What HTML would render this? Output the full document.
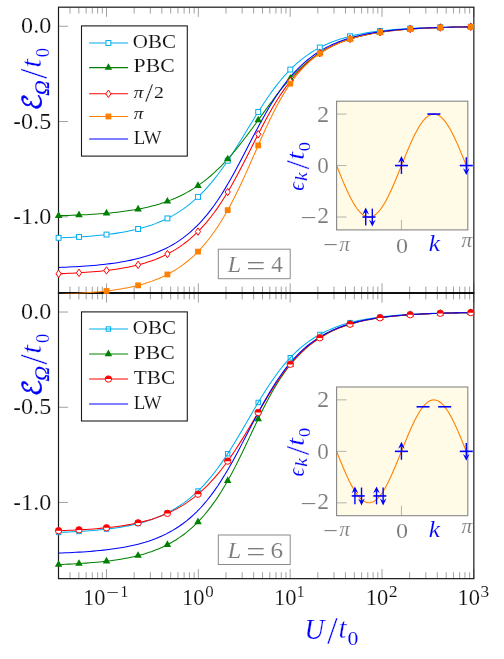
<!DOCTYPE html>
<html lang="en"><head><meta charset="utf-8"><title>Hubbard ring ground-state energy</title>
<style>html,body{margin:0;padding:0;background:#fff;}body{width:504px;height:659px;overflow:hidden;position:relative;}svg text{white-space:pre;}</style></head>
<body>
<svg width="504" height="659" viewBox="0 0 504 659" style="display:block;position:absolute;left:0;top:0">
<rect width="504" height="659" fill="#fff"/>
<defs>
<clipPath id="cp0"><rect x="58.5" y="7.2" width="415.34" height="286.40000000000003"/></clipPath>
<clipPath id="cp1"><rect x="58.5" y="293.0" width="415.34" height="286.25"/></clipPath>
</defs>
<path d="M58.50,7.2 v6.4 M69.97,7.2 v6.4 M78.87,7.2 v6.4 M86.14,7.2 v6.4 M92.29,7.2 v6.4 M97.62,7.2 v6.4 M102.31,7.2 v6.4 M106.52,7.2 v9.6 M134.16,7.2 v6.4 M150.33,7.2 v6.4 M161.80,7.2 v6.4 M170.70,7.2 v6.4 M177.97,7.2 v6.4 M184.12,7.2 v6.4 M189.45,7.2 v6.4 M194.15,7.2 v6.4 M198.35,7.2 v9.6 M225.99,7.2 v6.4 M242.16,7.2 v6.4 M253.64,7.2 v6.4 M262.53,7.2 v6.4 M269.81,7.2 v6.4 M275.95,7.2 v6.4 M281.28,7.2 v6.4 M285.98,7.2 v6.4 M290.18,7.2 v9.6 M317.82,7.2 v6.4 M333.99,7.2 v6.4 M345.47,7.2 v6.4 M354.37,7.2 v6.4 M361.64,7.2 v6.4 M367.78,7.2 v6.4 M373.11,7.2 v6.4 M377.81,7.2 v6.4 M382.01,7.2 v9.6 M409.65,7.2 v6.4 M425.82,7.2 v6.4 M437.30,7.2 v6.4 M446.20,7.2 v6.4 M453.47,7.2 v6.4 M459.62,7.2 v6.4 M464.94,7.2 v6.4 M469.64,7.2 v6.4 M473.84,7.2 v9.6 M58.50,293.0 v-6.4 M58.50,293.0 v6.4 M69.97,293.0 v-6.4 M69.97,293.0 v6.4 M78.87,293.0 v-6.4 M78.87,293.0 v6.4 M86.14,293.0 v-6.4 M86.14,293.0 v6.4 M92.29,293.0 v-6.4 M92.29,293.0 v6.4 M97.62,293.0 v-6.4 M97.62,293.0 v6.4 M102.31,293.0 v-6.4 M102.31,293.0 v6.4 M106.52,293.0 v-9.6 M106.52,293.0 v9.6 M134.16,293.0 v-6.4 M134.16,293.0 v6.4 M150.33,293.0 v-6.4 M150.33,293.0 v6.4 M161.80,293.0 v-6.4 M161.80,293.0 v6.4 M170.70,293.0 v-6.4 M170.70,293.0 v6.4 M177.97,293.0 v-6.4 M177.97,293.0 v6.4 M184.12,293.0 v-6.4 M184.12,293.0 v6.4 M189.45,293.0 v-6.4 M189.45,293.0 v6.4 M194.15,293.0 v-6.4 M194.15,293.0 v6.4 M198.35,293.0 v-9.6 M198.35,293.0 v9.6 M225.99,293.0 v-6.4 M225.99,293.0 v6.4 M242.16,293.0 v-6.4 M242.16,293.0 v6.4 M253.64,293.0 v-6.4 M253.64,293.0 v6.4 M262.53,293.0 v-6.4 M262.53,293.0 v6.4 M269.81,293.0 v-6.4 M269.81,293.0 v6.4 M275.95,293.0 v-6.4 M275.95,293.0 v6.4 M281.28,293.0 v-6.4 M281.28,293.0 v6.4 M285.98,293.0 v-6.4 M285.98,293.0 v6.4 M290.18,293.0 v-9.6 M290.18,293.0 v9.6 M317.82,293.0 v-6.4 M317.82,293.0 v6.4 M333.99,293.0 v-6.4 M333.99,293.0 v6.4 M345.47,293.0 v-6.4 M345.47,293.0 v6.4 M354.37,293.0 v-6.4 M354.37,293.0 v6.4 M361.64,293.0 v-6.4 M361.64,293.0 v6.4 M367.78,293.0 v-6.4 M367.78,293.0 v6.4 M373.11,293.0 v-6.4 M373.11,293.0 v6.4 M377.81,293.0 v-6.4 M377.81,293.0 v6.4 M382.01,293.0 v-9.6 M382.01,293.0 v9.6 M409.65,293.0 v-6.4 M409.65,293.0 v6.4 M425.82,293.0 v-6.4 M425.82,293.0 v6.4 M437.30,293.0 v-6.4 M437.30,293.0 v6.4 M446.20,293.0 v-6.4 M446.20,293.0 v6.4 M453.47,293.0 v-6.4 M453.47,293.0 v6.4 M459.62,293.0 v-6.4 M459.62,293.0 v6.4 M464.94,293.0 v-6.4 M464.94,293.0 v6.4 M469.64,293.0 v-6.4 M469.64,293.0 v6.4 M473.84,293.0 v-9.6 M473.84,293.0 v9.6 M58.50,578.65 v-6.4 M69.97,578.65 v-6.4 M78.87,578.65 v-6.4 M86.14,578.65 v-6.4 M92.29,578.65 v-6.4 M97.62,578.65 v-6.4 M102.31,578.65 v-6.4 M106.52,578.65 v-9.6 M134.16,578.65 v-6.4 M150.33,578.65 v-6.4 M161.80,578.65 v-6.4 M170.70,578.65 v-6.4 M177.97,578.65 v-6.4 M184.12,578.65 v-6.4 M189.45,578.65 v-6.4 M194.15,578.65 v-6.4 M198.35,578.65 v-9.6 M225.99,578.65 v-6.4 M242.16,578.65 v-6.4 M253.64,578.65 v-6.4 M262.53,578.65 v-6.4 M269.81,578.65 v-6.4 M275.95,578.65 v-6.4 M281.28,578.65 v-6.4 M285.98,578.65 v-6.4 M290.18,578.65 v-9.6 M317.82,578.65 v-6.4 M333.99,578.65 v-6.4 M345.47,578.65 v-6.4 M354.37,578.65 v-6.4 M361.64,578.65 v-6.4 M367.78,578.65 v-6.4 M373.11,578.65 v-6.4 M377.81,578.65 v-6.4 M382.01,578.65 v-9.6 M409.65,578.65 v-6.4 M425.82,578.65 v-6.4 M437.30,578.65 v-6.4 M446.20,578.65 v-6.4 M453.47,578.65 v-6.4 M459.62,578.65 v-6.4 M464.94,578.65 v-6.4 M469.64,578.65 v-6.4 M473.84,578.65 v-9.6 M58.5,26.25 h9.6 M58.5,121.52 h9.6 M58.5,216.79 h9.6 M58.5,312.04 h9.6 M58.5,407.26 h9.6 M58.5,502.48 h9.6" stroke="#7a7a7a" stroke-width="0.7" fill="none"/>
<g fill="none" stroke="#1a1a1a" stroke-width="1.2">
<rect x="58.5" y="7.2" width="415.34" height="285.8"/>
<rect x="58.5" y="293.0" width="415.34" height="285.65"/>
<path d="M58.5,293.0 H473.84" stroke="#000" stroke-width="1.45"/>
</g>
<g clip-path="url(#cp0)" fill="none" stroke-width="1.05">
<path d="M58.50,237.85 L61.96,237.72 L65.42,237.58 L68.88,237.43 L72.34,237.26 L75.81,237.08 L79.27,236.88 L82.73,236.67 L86.19,236.43 L89.65,236.18 L93.11,235.90 L96.57,235.59 L100.03,235.26 L103.50,234.90 L106.96,234.51 L110.42,234.08 L113.88,233.62 L117.34,233.11 L120.80,232.56 L124.26,231.96 L127.72,231.31 L131.18,230.60 L134.65,229.84 L138.11,229.00 L141.57,228.09 L145.03,227.11 L148.49,226.04 L151.95,224.88 L155.41,223.62 L158.87,222.26 L162.33,220.78 L165.80,219.18 L169.26,217.46 L172.72,215.59 L176.18,213.58 L179.64,211.41 L183.10,209.07 L186.56,206.56 L190.02,203.86 L193.49,200.97 L196.95,197.87 L200.41,194.57 L203.87,191.04 L207.33,187.29 L210.79,183.32 L214.25,179.12 L217.71,174.70 L221.17,170.05 L224.64,165.20 L228.10,160.15 L231.56,154.92 L235.02,149.54 L238.48,144.03 L241.94,138.43 L245.40,132.76 L248.86,127.08 L252.33,121.42 L255.79,115.81 L259.25,110.31 L262.71,104.93 L266.17,99.73 L269.63,94.71 L273.09,89.90 L276.55,85.33 L280.01,80.99 L283.48,76.90 L286.94,73.05 L290.40,69.45 L293.86,66.08 L297.32,62.95 L300.78,60.04 L304.24,57.34 L307.70,54.84 L311.17,52.53 L314.63,50.40 L318.09,48.43 L321.55,46.62 L325.01,44.95 L328.47,43.41 L331.93,42.00 L335.39,40.70 L338.85,39.51 L342.32,38.41 L345.78,37.41 L349.24,36.49 L352.70,35.64 L356.16,34.86 L359.62,34.15 L363.08,33.49 L366.54,32.89 L370.00,32.34 L373.47,31.83 L376.93,31.37 L380.39,30.95 L383.85,30.56 L387.31,30.20 L390.77,29.87 L394.23,29.57 L397.69,29.29 L401.16,29.04 L404.62,28.81 L408.08,28.60 L411.54,28.40 L415.00,28.22 L418.46,28.06 L421.92,27.91 L425.38,27.77 L428.84,27.65 L432.31,27.53 L435.77,27.42 L439.23,27.33 L442.69,27.24 L446.15,27.16 L449.61,27.08 L453.07,27.01 L456.53,26.95 L460.00,26.89 L463.46,26.84 L466.92,26.79 L470.38,26.75 L473.84,26.70" stroke="#00aeef"/>
<path d="M58.50,215.72 L61.96,215.62 L65.42,215.52 L68.88,215.40 L72.34,215.28 L75.81,215.14 L79.27,214.99 L82.73,214.83 L86.19,214.66 L89.65,214.47 L93.11,214.26 L96.57,214.03 L100.03,213.78 L103.50,213.52 L106.96,213.22 L110.42,212.91 L113.88,212.56 L117.34,212.18 L120.80,211.77 L124.26,211.33 L127.72,210.84 L131.18,210.32 L134.65,209.75 L138.11,209.13 L141.57,208.46 L145.03,207.73 L148.49,206.94 L151.95,206.08 L155.41,205.15 L158.87,204.15 L162.33,203.06 L165.80,201.89 L169.26,200.63 L172.72,199.26 L176.18,197.79 L179.64,196.20 L183.10,194.50 L186.56,192.66 L190.02,190.70 L193.49,188.59 L196.95,186.34 L200.41,183.94 L203.87,181.38 L207.33,178.65 L210.79,175.75 L214.25,172.69 L217.71,169.44 L221.17,166.03 L224.64,162.43 L228.10,158.67 L231.56,154.74 L235.02,150.65 L238.48,146.40 L241.94,142.02 L245.40,137.51 L248.86,132.90 L252.33,128.21 L255.79,123.45 L259.25,118.66 L262.71,113.86 L266.17,109.08 L269.63,104.35 L273.09,99.70 L276.55,95.15 L280.01,90.72 L283.48,86.44 L286.94,82.33 L290.40,78.40 L293.86,74.66 L297.32,71.11 L300.78,67.77 L304.24,64.62 L307.70,61.68 L311.17,58.92 L314.63,56.36 L318.09,53.98 L321.55,51.77 L325.01,49.72 L328.47,47.82 L331.93,46.08 L335.39,44.46 L338.85,42.98 L342.32,41.61 L345.78,40.35 L349.24,39.19 L352.70,38.12 L356.16,37.14 L359.62,36.24 L363.08,35.42 L366.54,34.66 L370.00,33.96 L373.47,33.32 L376.93,32.74 L380.39,32.20 L383.85,31.71 L387.31,31.25 L390.77,30.84 L394.23,30.46 L397.69,30.11 L401.16,29.79 L404.62,29.49 L408.08,29.23 L411.54,28.98 L415.00,28.75 L418.46,28.54 L421.92,28.35 L425.38,28.18 L428.84,28.02 L432.31,27.87 L435.77,27.74 L439.23,27.61 L442.69,27.50 L446.15,27.40 L449.61,27.30 L453.07,27.22 L456.53,27.14 L460.00,27.06 L463.46,26.99 L466.92,26.93 L470.38,26.88 L473.84,26.82" stroke="#008000"/>
<path d="M58.50,273.77 L61.96,273.64 L65.42,273.50 L68.88,273.35 L72.34,273.18 L75.81,273.00 L79.27,272.80 L82.73,272.58 L86.19,272.35 L89.65,272.09 L93.11,271.81 L96.57,271.51 L100.03,271.17 L103.50,270.81 L106.96,270.42 L110.42,269.99 L113.88,269.52 L117.34,269.01 L120.80,268.46 L124.26,267.85 L127.72,267.20 L131.18,266.48 L134.65,265.70 L138.11,264.86 L141.57,263.94 L145.03,262.94 L148.49,261.85 L151.95,260.67 L155.41,259.39 L158.87,258.00 L162.33,256.49 L165.80,254.86 L169.26,253.08 L172.72,251.16 L176.18,249.09 L179.64,246.84 L183.10,244.41 L186.56,241.79 L190.02,238.97 L193.49,235.93 L196.95,232.65 L200.41,229.14 L203.87,225.38 L207.33,221.35 L210.79,217.05 L214.25,212.48 L217.71,207.62 L221.17,202.47 L224.64,197.05 L228.10,191.35 L231.56,185.40 L235.02,179.20 L238.48,172.79 L241.94,166.21 L245.40,159.48 L248.86,152.67 L252.33,145.82 L255.79,138.98 L259.25,132.21 L262.71,125.56 L266.17,119.08 L269.63,112.81 L273.09,106.79 L276.55,101.03 L280.01,95.57 L283.48,90.40 L286.94,85.54 L290.40,80.99 L293.86,76.73 L297.32,72.76 L300.78,69.08 L304.24,65.66 L307.70,62.49 L311.17,59.56 L314.63,56.86 L318.09,54.37 L321.55,52.07 L325.01,49.96 L328.47,48.01 L331.93,46.22 L335.39,44.57 L338.85,43.06 L342.32,41.67 L345.78,40.40 L349.24,39.23 L352.70,38.15 L356.16,37.17 L359.62,36.26 L363.08,35.43 L366.54,34.67 L370.00,33.97 L373.47,33.33 L376.93,32.74 L380.39,32.20 L383.85,31.71 L387.31,31.26 L390.77,30.84 L394.23,30.46 L397.69,30.11 L401.16,29.79 L404.62,29.50 L408.08,29.23 L411.54,28.98 L415.00,28.75 L418.46,28.54 L421.92,28.35 L425.38,28.18 L428.84,28.02 L432.31,27.87 L435.77,27.74 L439.23,27.61 L442.69,27.50 L446.15,27.40 L449.61,27.30 L453.07,27.22 L456.53,27.14 L460.00,27.06 L463.46,26.99 L466.92,26.93 L470.38,26.88 L473.84,26.82" stroke="#ff0000"/>
<path d="M58.50,294.28 L61.96,294.15 L65.42,294.01 L68.88,293.86 L72.34,293.69 L75.81,293.51 L79.27,293.31 L82.73,293.09 L86.19,292.86 L89.65,292.60 L93.11,292.32 L96.57,292.02 L100.03,291.68 L103.50,291.32 L106.96,290.92 L110.42,290.49 L113.88,290.02 L117.34,289.51 L120.80,288.96 L124.26,288.35 L127.72,287.69 L131.18,286.98 L134.65,286.19 L138.11,285.34 L141.57,284.42 L145.03,283.41 L148.49,282.32 L151.95,281.13 L155.41,279.84 L158.87,278.44 L162.33,276.92 L165.80,275.27 L169.26,273.47 L172.72,271.53 L176.18,269.43 L179.64,267.15 L183.10,264.68 L186.56,262.01 L190.02,259.13 L193.49,256.02 L196.95,252.67 L200.41,249.06 L203.87,245.18 L207.33,241.01 L210.79,236.54 L214.25,231.77 L217.71,226.67 L221.17,221.25 L224.64,215.49 L228.10,209.40 L231.56,202.98 L235.02,196.24 L238.48,189.21 L241.94,181.91 L245.40,174.38 L248.86,166.67 L252.33,158.83 L255.79,150.93 L259.25,143.05 L262.71,135.27 L266.17,127.65 L269.63,120.28 L273.09,113.20 L276.55,106.47 L280.01,100.13 L283.48,94.18 L286.94,88.64 L290.40,83.51 L293.86,78.76 L297.32,74.39 L300.78,70.37 L304.24,66.69 L307.70,63.30 L311.17,60.20 L314.63,57.36 L318.09,54.76 L321.55,52.38 L325.01,50.19 L328.47,48.19 L331.93,46.36 L335.39,44.68 L338.85,43.15 L342.32,41.74 L345.78,40.45 L349.24,39.27 L352.70,38.18 L356.16,37.19 L359.62,36.28 L363.08,35.45 L366.54,34.68 L370.00,33.98 L373.47,33.34 L376.93,32.75 L380.39,32.21 L383.85,31.71 L387.31,31.26 L390.77,30.84 L394.23,30.46 L397.69,30.11 L401.16,29.79 L404.62,29.50 L408.08,29.23 L411.54,28.98 L415.00,28.75 L418.46,28.55 L421.92,28.35 L425.38,28.18 L428.84,28.02 L432.31,27.87 L435.77,27.74 L439.23,27.61 L442.69,27.50 L446.15,27.40 L449.61,27.30 L453.07,27.22 L456.53,27.14 L460.00,27.06 L463.46,26.99 L466.92,26.93 L470.38,26.88 L473.84,26.82" stroke="#ff8000"/>
<path d="M58.50,267.42 L61.96,267.29 L65.42,267.15 L68.88,267.00 L72.34,266.83 L75.81,266.65 L79.27,266.45 L82.73,266.23 L86.19,266.00 L89.65,265.74 L93.11,265.46 L96.57,265.16 L100.03,264.82 L103.50,264.46 L106.96,264.07 L110.42,263.63 L113.88,263.17 L117.34,262.66 L120.80,262.10 L124.26,261.49 L127.72,260.84 L131.18,260.12 L134.65,259.34 L138.11,258.49 L141.57,257.56 L145.03,256.56 L148.49,255.47 L151.95,254.28 L155.41,252.99 L158.87,251.59 L162.33,250.07 L165.80,248.42 L169.26,246.63 L172.72,244.69 L176.18,242.59 L179.64,240.32 L183.10,237.86 L186.56,235.20 L190.02,232.33 L193.49,229.23 L196.95,225.90 L200.41,222.31 L203.87,218.46 L207.33,214.34 L210.79,209.93 L214.25,205.23 L217.71,200.23 L221.17,194.95 L224.64,189.39 L228.10,183.56 L231.56,177.49 L235.02,171.20 L238.48,164.74 L241.94,158.15 L245.40,151.48 L248.86,144.77 L252.33,138.08 L255.79,131.47 L259.25,124.97 L262.71,118.63 L266.17,112.49 L269.63,106.58 L273.09,100.93 L276.55,95.55 L280.01,90.45 L283.48,85.64 L286.94,81.12 L290.40,76.89 L293.86,72.95 L297.32,69.27 L300.78,65.86 L304.24,62.69 L307.70,59.76 L311.17,57.05 L314.63,54.55 L318.09,52.24 L321.55,50.12 L325.01,48.16 L328.47,46.36 L331.93,44.71 L335.39,43.19 L338.85,41.79 L342.32,40.51 L345.78,39.33 L349.24,38.24 L352.70,37.25 L356.16,36.34 L359.62,35.50 L363.08,34.74 L366.54,34.03 L370.00,33.39 L373.47,32.79 L376.93,32.25 L380.39,31.75 L383.85,31.30 L387.31,30.88 L390.77,30.49 L394.23,30.14 L397.69,29.82 L401.16,29.52 L404.62,29.25 L408.08,29.00 L411.54,28.77 L415.00,28.56 L418.46,28.37 L421.92,28.20 L425.38,28.03 L428.84,27.89 L432.31,27.75 L435.77,27.63 L439.23,27.51 L442.69,27.41 L446.15,27.31 L449.61,27.22 L453.07,27.14 L456.53,27.07 L460.00,27.00 L463.46,26.94 L466.92,26.88 L470.38,26.83 L473.84,26.78" stroke="#0000ff"/>
</g>
<g clip-path="url(#cp1)" fill="none" stroke-width="1.05">
<path d="M58.50,532.41 L61.96,532.28 L65.42,532.14 L68.88,531.99 L72.34,531.82 L75.81,531.64 L79.27,531.44 L82.73,531.22 L86.19,530.99 L89.65,530.73 L93.11,530.45 L96.57,530.15 L100.03,529.82 L103.50,529.46 L106.96,529.06 L110.42,528.64 L113.88,528.17 L117.34,527.66 L120.80,527.11 L124.26,526.51 L127.72,525.86 L131.18,525.15 L134.65,524.38 L138.11,523.54 L141.57,522.63 L145.03,521.64 L148.49,520.56 L151.95,519.39 L155.41,518.13 L158.87,516.76 L162.33,515.27 L165.80,513.66 L169.26,511.92 L172.72,510.03 L176.18,508.00 L179.64,505.80 L183.10,503.43 L186.56,500.88 L190.02,498.14 L193.49,495.20 L196.95,492.04 L200.41,488.66 L203.87,485.05 L207.33,481.21 L210.79,477.12 L214.25,472.79 L217.71,468.22 L221.17,463.41 L224.64,458.37 L228.10,453.11 L231.56,447.66 L235.02,442.03 L238.48,436.25 L241.94,430.36 L245.40,424.41 L248.86,418.42 L252.33,412.45 L255.79,406.53 L259.25,400.72 L262.71,395.04 L266.17,389.54 L269.63,384.25 L273.09,379.18 L276.55,374.35 L280.01,369.77 L283.48,365.45 L286.94,361.39 L290.40,357.59 L293.86,354.04 L297.32,350.74 L300.78,347.67 L304.24,344.82 L307.70,342.18 L311.17,339.75 L314.63,337.50 L318.09,335.42 L321.55,333.51 L325.01,331.75 L328.47,330.13 L331.93,328.65 L335.39,327.28 L338.85,326.02 L342.32,324.86 L345.78,323.80 L349.24,322.83 L352.70,321.94 L356.16,321.12 L359.62,320.36 L363.08,319.67 L366.54,319.04 L370.00,318.46 L373.47,317.93 L376.93,317.44 L380.39,316.99 L383.85,316.58 L387.31,316.20 L390.77,315.86 L394.23,315.54 L397.69,315.25 L401.16,314.98 L404.62,314.74 L408.08,314.52 L411.54,314.31 L415.00,314.12 L418.46,313.95 L421.92,313.79 L425.38,313.65 L428.84,313.51 L432.31,313.39 L435.77,313.28 L439.23,313.18 L442.69,313.08 L446.15,312.99 L449.61,312.92 L453.07,312.84 L456.53,312.78 L460.00,312.72 L463.46,312.66 L466.92,312.61 L470.38,312.56 L473.84,312.52" stroke="#00aeef"/>
<path d="M58.50,564.53 L61.96,564.40 L65.42,564.26 L68.88,564.11 L72.34,563.94 L75.81,563.76 L79.27,563.56 L82.73,563.34 L86.19,563.11 L89.65,562.85 L93.11,562.57 L96.57,562.26 L100.03,561.93 L103.50,561.57 L106.96,561.17 L110.42,560.74 L113.88,560.27 L117.34,559.76 L120.80,559.21 L124.26,558.60 L127.72,557.94 L131.18,557.23 L134.65,556.45 L138.11,555.60 L141.57,554.67 L145.03,553.67 L148.49,552.58 L151.95,551.39 L155.41,550.10 L158.87,548.70 L162.33,547.18 L165.80,545.53 L169.26,543.74 L172.72,541.80 L176.18,539.70 L179.64,537.42 L183.10,534.96 L186.56,532.30 L190.02,529.43 L193.49,526.32 L196.95,522.98 L200.41,519.38 L203.87,515.52 L207.33,511.37 L210.79,506.93 L214.25,502.18 L217.71,497.12 L221.17,491.75 L224.64,486.05 L228.10,480.04 L231.56,473.73 L235.02,467.13 L238.48,460.28 L241.94,453.21 L245.40,445.98 L248.86,438.64 L252.33,431.27 L255.79,423.94 L259.25,416.72 L262.71,409.69 L266.17,402.91 L269.63,396.42 L273.09,390.26 L276.55,384.43 L280.01,378.96 L283.48,373.84 L286.94,369.05 L290.40,364.59 L293.86,360.45 L297.32,356.61 L300.78,353.05 L304.24,349.76 L307.70,346.71 L311.17,343.90 L314.63,341.31 L318.09,338.92 L321.55,336.73 L325.01,334.70 L328.47,332.84 L331.93,331.13 L335.39,329.55 L338.85,328.11 L342.32,326.78 L345.78,325.56 L349.24,324.44 L352.70,323.42 L356.16,322.47 L359.62,321.61 L363.08,320.81 L366.54,320.09 L370.00,319.42 L373.47,318.81 L376.93,318.25 L380.39,317.73 L383.85,317.26 L387.31,316.82 L390.77,316.43 L394.23,316.06 L397.69,315.73 L401.16,315.42 L404.62,315.14 L408.08,314.88 L411.54,314.65 L415.00,314.43 L418.46,314.23 L421.92,314.05 L425.38,313.88 L428.84,313.73 L432.31,313.59 L435.77,313.46 L439.23,313.34 L442.69,313.24 L446.15,313.14 L449.61,313.05 L453.07,312.96 L456.53,312.89 L460.00,312.82 L463.46,312.75 L466.92,312.69 L470.38,312.64 L473.84,312.59" stroke="#008000"/>
<path d="M58.50,530.67 L61.96,530.56 L65.42,530.43 L68.88,530.30 L72.34,530.15 L75.81,529.99 L79.27,529.81 L82.73,529.62 L86.19,529.41 L89.65,529.18 L93.11,528.94 L96.57,528.67 L100.03,528.37 L103.50,528.05 L106.96,527.70 L110.42,527.32 L113.88,526.91 L117.34,526.46 L120.80,525.97 L124.26,525.44 L127.72,524.86 L131.18,524.24 L134.65,523.55 L138.11,522.81 L141.57,522.00 L145.03,521.13 L148.49,520.18 L151.95,519.15 L155.41,518.03 L158.87,516.82 L162.33,515.51 L165.80,514.09 L169.26,512.55 L172.72,510.89 L176.18,509.10 L179.64,507.17 L183.10,505.08 L186.56,502.84 L190.02,500.43 L193.49,497.84 L196.95,495.07 L200.41,492.09 L203.87,488.92 L207.33,485.53 L210.79,481.93 L214.25,478.10 L217.71,474.05 L221.17,469.77 L224.64,465.27 L228.10,460.54 L231.56,455.60 L235.02,450.46 L238.48,445.13 L241.94,439.63 L245.40,434.00 L248.86,428.25 L252.33,422.42 L255.79,416.56 L259.25,410.69 L262.71,404.87 L266.17,399.13 L269.63,393.52 L273.09,388.08 L276.55,382.82 L280.01,377.79 L283.48,373.00 L286.94,368.46 L290.40,364.18 L293.86,360.17 L297.32,356.42 L300.78,352.92 L304.24,349.67 L307.70,346.65 L311.17,343.86 L314.63,341.29 L318.09,338.91 L321.55,336.71 L325.01,334.69 L328.47,332.83 L331.93,331.12 L335.39,329.55 L338.85,328.11 L342.32,326.78 L345.78,325.56 L349.24,324.44 L352.70,323.42 L356.16,322.47 L359.62,321.61 L363.08,320.81 L366.54,320.09 L370.00,319.42 L373.47,318.81 L376.93,318.25 L380.39,317.73 L383.85,317.26 L387.31,316.82 L390.77,316.43 L394.23,316.06 L397.69,315.73 L401.16,315.42 L404.62,315.14 L408.08,314.88 L411.54,314.65 L415.00,314.43 L418.46,314.23 L421.92,314.05 L425.38,313.88 L428.84,313.73 L432.31,313.59 L435.77,313.46 L439.23,313.34 L442.69,313.24 L446.15,313.14 L449.61,313.05 L453.07,312.96 L456.53,312.89 L460.00,312.82 L463.46,312.75 L466.92,312.69 L470.38,312.64 L473.84,312.59" stroke="#ff0000"/>
<path d="M58.50,553.09 L61.96,552.96 L65.42,552.82 L68.88,552.66 L72.34,552.50 L75.81,552.31 L79.27,552.11 L82.73,551.90 L86.19,551.66 L89.65,551.41 L93.11,551.13 L96.57,550.82 L100.03,550.49 L103.50,550.13 L106.96,549.73 L110.42,549.30 L113.88,548.83 L117.34,548.32 L120.80,547.77 L124.26,547.16 L127.72,546.50 L131.18,545.79 L134.65,545.01 L138.11,544.16 L141.57,543.23 L145.03,542.23 L148.49,541.14 L151.95,539.95 L155.41,538.66 L158.87,537.26 L162.33,535.74 L165.80,534.10 L169.26,532.31 L172.72,530.37 L176.18,528.27 L179.64,526.00 L183.10,523.54 L186.56,520.88 L190.02,518.01 L193.49,514.92 L196.95,511.58 L200.41,508.00 L203.87,504.15 L207.33,500.03 L210.79,495.62 L214.25,490.92 L217.71,485.93 L221.17,480.65 L224.64,475.09 L228.10,469.26 L231.56,463.20 L235.02,456.91 L238.48,450.46 L241.94,443.87 L245.40,437.20 L248.86,430.50 L252.33,423.81 L255.79,417.20 L259.25,410.70 L262.71,404.37 L266.17,398.24 L269.63,392.33 L273.09,386.68 L276.55,381.30 L280.01,376.20 L283.48,371.40 L286.94,366.89 L290.40,362.66 L293.86,358.71 L297.32,355.04 L300.78,351.63 L304.24,348.46 L307.70,345.53 L311.17,342.82 L314.63,340.32 L318.09,338.02 L321.55,335.90 L325.01,333.94 L328.47,332.14 L331.93,330.49 L335.39,328.97 L338.85,327.57 L342.32,326.29 L345.78,325.11 L349.24,324.03 L352.70,323.04 L356.16,322.12 L359.62,321.29 L363.08,320.52 L366.54,319.82 L370.00,319.17 L373.47,318.58 L376.93,318.04 L380.39,317.54 L383.85,317.08 L387.31,316.66 L390.77,316.28 L394.23,315.93 L397.69,315.61 L401.16,315.31 L404.62,315.04 L408.08,314.79 L411.54,314.56 L415.00,314.35 L418.46,314.16 L421.92,313.98 L425.38,313.82 L428.84,313.67 L432.31,313.54 L435.77,313.41 L439.23,313.30 L442.69,313.20 L446.15,313.10 L449.61,313.01 L453.07,312.93 L456.53,312.86 L460.00,312.79 L463.46,312.73 L466.92,312.67 L470.38,312.62 L473.84,312.57" stroke="#0000ff"/>
</g>
<g>
<rect x="56.15" y="235.40" width="4.9" height="4.9" fill="#fff" stroke="#00aeef" stroke-width="1"/>
<rect x="76.55" y="234.45" width="4.9" height="4.9" fill="#fff" stroke="#00aeef" stroke-width="1"/>
<rect x="104.05" y="232.11" width="4.9" height="4.9" fill="#fff" stroke="#00aeef" stroke-width="1"/>
<rect x="135.65" y="226.55" width="4.9" height="4.9" fill="#fff" stroke="#00aeef" stroke-width="1"/>
<rect x="164.95" y="215.95" width="4.9" height="4.9" fill="#fff" stroke="#00aeef" stroke-width="1"/>
<rect x="195.55" y="194.44" width="4.9" height="4.9" fill="#fff" stroke="#00aeef" stroke-width="1"/>
<rect x="225.25" y="158.29" width="4.9" height="4.9" fill="#fff" stroke="#00aeef" stroke-width="1"/>
<rect x="255.75" y="109.51" width="4.9" height="4.9" fill="#fff" stroke="#00aeef" stroke-width="1"/>
<rect x="287.85" y="67.10" width="4.9" height="4.9" fill="#fff" stroke="#00aeef" stroke-width="1"/>
<rect x="317.35" y="45.06" width="4.9" height="4.9" fill="#fff" stroke="#00aeef" stroke-width="1"/>
<rect x="347.55" y="33.84" width="4.9" height="4.9" fill="#fff" stroke="#00aeef" stroke-width="1"/>
<rect x="377.55" y="28.54" width="4.9" height="4.9" fill="#fff" stroke="#00aeef" stroke-width="1"/>
<rect x="407.75" y="26.03" width="4.9" height="4.9" fill="#fff" stroke="#00aeef" stroke-width="1"/>
<rect x="437.85" y="24.85" width="4.9" height="4.9" fill="#fff" stroke="#00aeef" stroke-width="1"/>
<rect x="468.35" y="24.29" width="4.9" height="4.9" fill="#fff" stroke="#00aeef" stroke-width="1"/>
<path d="M54.85,217.97 L62.35,217.97 L58.60,211.32 Z" fill="#008000"/>
<path d="M75.25,217.26 L82.75,217.26 L79.00,210.61 Z" fill="#008000"/>
<path d="M102.75,215.51 L110.25,215.51 L106.50,208.86 Z" fill="#008000"/>
<path d="M134.35,211.38 L141.85,211.38 L138.10,204.73 Z" fill="#008000"/>
<path d="M163.65,203.57 L171.15,203.57 L167.40,196.92 Z" fill="#008000"/>
<path d="M194.25,187.88 L201.75,187.88 L198.00,181.23 Z" fill="#008000"/>
<path d="M223.95,161.36 L231.45,161.36 L227.70,154.71 Z" fill="#008000"/>
<path d="M254.45,122.36 L261.95,122.36 L258.20,115.71 Z" fill="#008000"/>
<path d="M286.55,80.76 L294.05,80.76 L290.30,74.11 Z" fill="#008000"/>
<path d="M316.05,55.11 L323.55,55.11 L319.80,48.46 Z" fill="#008000"/>
<path d="M346.25,41.19 L353.75,41.19 L350.00,34.54 Z" fill="#008000"/>
<path d="M376.25,34.51 L383.75,34.51 L380.00,27.86 Z" fill="#008000"/>
<path d="M406.45,31.32 L413.95,31.32 L410.20,24.67 Z" fill="#008000"/>
<path d="M436.55,29.83 L444.05,29.83 L440.30,23.18 Z" fill="#008000"/>
<path d="M467.05,29.12 L474.55,29.12 L470.80,22.47 Z" fill="#008000"/>
<path d="M56.00,273.77 L58.60,270.07 L61.20,273.77 L58.60,277.47 Z" fill="#fff" stroke="#ff0000" stroke-width="1"/>
<path d="M76.40,272.82 L79.00,269.12 L81.60,272.82 L79.00,276.52 Z" fill="#fff" stroke="#ff0000" stroke-width="1"/>
<path d="M103.90,270.47 L106.50,266.77 L109.10,270.47 L106.50,274.17 Z" fill="#fff" stroke="#ff0000" stroke-width="1"/>
<path d="M135.50,264.86 L138.10,261.16 L140.70,264.86 L138.10,268.56 Z" fill="#fff" stroke="#ff0000" stroke-width="1"/>
<path d="M164.80,254.05 L167.40,250.35 L170.00,254.05 L167.40,257.75 Z" fill="#fff" stroke="#ff0000" stroke-width="1"/>
<path d="M195.40,231.61 L198.00,227.91 L200.60,231.61 L198.00,235.31 Z" fill="#fff" stroke="#ff0000" stroke-width="1"/>
<path d="M225.10,192.02 L227.70,188.32 L230.30,192.02 L227.70,195.72 Z" fill="#fff" stroke="#ff0000" stroke-width="1"/>
<path d="M255.60,134.25 L258.20,130.55 L260.80,134.25 L258.20,137.95 Z" fill="#fff" stroke="#ff0000" stroke-width="1"/>
<path d="M287.70,81.11 L290.30,77.41 L292.90,81.11 L290.30,84.81 Z" fill="#fff" stroke="#ff0000" stroke-width="1"/>
<path d="M317.20,53.21 L319.80,49.51 L322.40,53.21 L319.80,56.91 Z" fill="#fff" stroke="#ff0000" stroke-width="1"/>
<path d="M347.40,38.98 L350.00,35.28 L352.60,38.98 L350.00,42.68 Z" fill="#fff" stroke="#ff0000" stroke-width="1"/>
<path d="M377.40,32.26 L380.00,28.56 L382.60,32.26 L380.00,35.96 Z" fill="#fff" stroke="#ff0000" stroke-width="1"/>
<path d="M407.60,29.07 L410.20,25.37 L412.80,29.07 L410.20,32.77 Z" fill="#fff" stroke="#ff0000" stroke-width="1"/>
<path d="M437.70,27.58 L440.30,23.88 L442.90,27.58 L440.30,31.28 Z" fill="#fff" stroke="#ff0000" stroke-width="1"/>
<path d="M468.20,26.87 L470.80,23.17 L473.40,26.87 L470.80,30.57 Z" fill="#fff" stroke="#ff0000" stroke-width="1"/>
<rect x="103.60" y="288.08" width="5.8" height="5.8" fill="#ff8000"/>
<rect x="135.20" y="282.45" width="5.8" height="5.8" fill="#ff8000"/>
<rect x="164.50" y="271.55" width="5.8" height="5.8" fill="#ff8000"/>
<rect x="195.10" y="248.70" width="5.8" height="5.8" fill="#ff8000"/>
<rect x="224.80" y="207.21" width="5.8" height="5.8" fill="#ff8000"/>
<rect x="255.30" y="142.53" width="5.8" height="5.8" fill="#ff8000"/>
<rect x="287.40" y="80.75" width="5.8" height="5.8" fill="#ff8000"/>
<rect x="316.90" y="50.65" width="5.8" height="5.8" fill="#ff8000"/>
<rect x="347.10" y="36.12" width="5.8" height="5.8" fill="#ff8000"/>
<rect x="377.10" y="29.37" width="5.8" height="5.8" fill="#ff8000"/>
<rect x="407.30" y="26.17" width="5.8" height="5.8" fill="#ff8000"/>
<rect x="437.40" y="24.68" width="5.8" height="5.8" fill="#ff8000"/>
<rect x="467.90" y="23.97" width="5.8" height="5.8" fill="#ff8000"/>
</g>
<g>
<rect x="56.40" y="530.21" width="4.4" height="4.4" fill="none" stroke="#00aeef" stroke-width="1"/>
<rect x="76.80" y="529.26" width="4.4" height="4.4" fill="none" stroke="#00aeef" stroke-width="1"/>
<rect x="104.30" y="526.92" width="4.4" height="4.4" fill="none" stroke="#00aeef" stroke-width="1"/>
<rect x="135.90" y="521.34" width="4.4" height="4.4" fill="none" stroke="#00aeef" stroke-width="1"/>
<rect x="165.20" y="510.67" width="4.4" height="4.4" fill="none" stroke="#00aeef" stroke-width="1"/>
<rect x="195.80" y="488.83" width="4.4" height="4.4" fill="none" stroke="#00aeef" stroke-width="1"/>
<rect x="225.50" y="451.53" width="4.4" height="4.4" fill="none" stroke="#00aeef" stroke-width="1"/>
<rect x="256.00" y="400.26" width="4.4" height="4.4" fill="none" stroke="#00aeef" stroke-width="1"/>
<rect x="288.10" y="355.50" width="4.4" height="4.4" fill="none" stroke="#00aeef" stroke-width="1"/>
<rect x="317.60" y="332.26" width="4.4" height="4.4" fill="none" stroke="#00aeef" stroke-width="1"/>
<rect x="347.80" y="320.43" width="4.4" height="4.4" fill="none" stroke="#00aeef" stroke-width="1"/>
<rect x="377.80" y="314.84" width="4.4" height="4.4" fill="none" stroke="#00aeef" stroke-width="1"/>
<rect x="408.00" y="312.19" width="4.4" height="4.4" fill="none" stroke="#00aeef" stroke-width="1"/>
<rect x="438.10" y="310.95" width="4.4" height="4.4" fill="none" stroke="#00aeef" stroke-width="1"/>
<rect x="468.60" y="310.36" width="4.4" height="4.4" fill="none" stroke="#00aeef" stroke-width="1"/>
<path d="M54.85,566.78 L62.35,566.78 L58.60,560.13 Z" fill="#008000"/>
<path d="M75.25,565.82 L82.75,565.82 L79.00,559.17 Z" fill="#008000"/>
<path d="M102.75,563.48 L110.25,563.48 L106.50,556.83 Z" fill="#008000"/>
<path d="M134.35,557.85 L141.85,557.85 L138.10,551.20 Z" fill="#008000"/>
<path d="M163.65,546.97 L171.15,546.97 L167.40,540.32 Z" fill="#008000"/>
<path d="M194.25,524.16 L201.75,524.16 L198.00,517.51 Z" fill="#008000"/>
<path d="M223.95,482.99 L231.45,482.99 L227.70,476.34 Z" fill="#008000"/>
<path d="M254.45,421.14 L261.95,421.14 L258.20,414.49 Z" fill="#008000"/>
<path d="M286.55,366.97 L294.05,366.97 L290.30,360.32 Z" fill="#008000"/>
<path d="M316.05,340.06 L323.55,340.06 L319.80,333.41 Z" fill="#008000"/>
<path d="M346.25,326.46 L353.75,326.46 L350.00,319.81 Z" fill="#008000"/>
<path d="M376.25,320.04 L383.75,320.04 L380.00,313.39 Z" fill="#008000"/>
<path d="M406.45,316.99 L413.95,316.99 L410.20,310.34 Z" fill="#008000"/>
<path d="M436.55,315.56 L444.05,315.56 L440.30,308.91 Z" fill="#008000"/>
<path d="M467.05,314.88 L474.55,314.88 L470.80,308.23 Z" fill="#008000"/>
<circle cx="58.60" cy="530.67" r="3.2" fill="#fff" stroke="#ff0000" stroke-width="0.95"/><path d="M55.40,530.77 A3.2,3.2 0 0 1 61.80,530.77 Z" fill="#ff0000"/>
<circle cx="79.00" cy="529.83" r="3.2" fill="#fff" stroke="#ff0000" stroke-width="0.95"/><path d="M75.80,529.93 A3.2,3.2 0 0 1 82.20,529.93 Z" fill="#ff0000"/>
<circle cx="106.50" cy="527.75" r="3.2" fill="#fff" stroke="#ff0000" stroke-width="0.95"/><path d="M103.30,527.85 A3.2,3.2 0 0 1 109.70,527.85 Z" fill="#ff0000"/>
<circle cx="138.10" cy="522.81" r="3.2" fill="#fff" stroke="#ff0000" stroke-width="0.95"/><path d="M134.90,522.91 A3.2,3.2 0 0 1 141.30,522.91 Z" fill="#ff0000"/>
<circle cx="167.40" cy="513.39" r="3.2" fill="#fff" stroke="#ff0000" stroke-width="0.95"/><path d="M164.20,513.49 A3.2,3.2 0 0 1 170.60,513.49 Z" fill="#ff0000"/>
<circle cx="198.00" cy="494.18" r="3.2" fill="#fff" stroke="#ff0000" stroke-width="0.95"/><path d="M194.80,494.28 A3.2,3.2 0 0 1 201.20,494.28 Z" fill="#ff0000"/>
<circle cx="227.70" cy="461.09" r="3.2" fill="#fff" stroke="#ff0000" stroke-width="0.95"/><path d="M224.50,461.19 A3.2,3.2 0 0 1 230.90,461.19 Z" fill="#ff0000"/>
<circle cx="258.20" cy="412.46" r="3.2" fill="#fff" stroke="#ff0000" stroke-width="0.95"/><path d="M255.00,412.56 A3.2,3.2 0 0 1 261.40,412.56 Z" fill="#ff0000"/>
<circle cx="290.30" cy="364.30" r="3.2" fill="#fff" stroke="#ff0000" stroke-width="0.95"/><path d="M287.10,364.40 A3.2,3.2 0 0 1 293.50,364.40 Z" fill="#ff0000"/>
<circle cx="319.80" cy="337.80" r="3.2" fill="#fff" stroke="#ff0000" stroke-width="0.95"/><path d="M316.60,337.90 A3.2,3.2 0 0 1 323.00,337.90 Z" fill="#ff0000"/>
<circle cx="350.00" cy="324.21" r="3.2" fill="#fff" stroke="#ff0000" stroke-width="0.95"/><path d="M346.80,324.31 A3.2,3.2 0 0 1 353.20,324.31 Z" fill="#ff0000"/>
<circle cx="380.00" cy="317.79" r="3.2" fill="#fff" stroke="#ff0000" stroke-width="0.95"/><path d="M376.80,317.89 A3.2,3.2 0 0 1 383.20,317.89 Z" fill="#ff0000"/>
<circle cx="410.20" cy="314.74" r="3.2" fill="#fff" stroke="#ff0000" stroke-width="0.95"/><path d="M407.00,314.84 A3.2,3.2 0 0 1 413.40,314.84 Z" fill="#ff0000"/>
<circle cx="440.30" cy="313.31" r="3.2" fill="#fff" stroke="#ff0000" stroke-width="0.95"/><path d="M437.10,313.41 A3.2,3.2 0 0 1 443.50,313.41 Z" fill="#ff0000"/>
<circle cx="470.80" cy="312.63" r="3.2" fill="#fff" stroke="#ff0000" stroke-width="0.95"/><path d="M467.60,312.73 A3.2,3.2 0 0 1 474.00,312.73 Z" fill="#ff0000"/>
</g>
<rect x="81.5" y="25.9" width="105.80000000000001" height="130.2" fill="#fff" stroke="#1a1a1a" stroke-width="1.1"/>
<path d="M89.1,43.0 H128.1" stroke="#00aeef" stroke-width="1.05" fill="none"/>
<rect x="105.95" y="40.55" width="4.9" height="4.9" fill="#fff" stroke="#00aeef" stroke-width="1"/>
<text transform="translate(132.84,47.88) scale(1.083,1)" font-family='"Liberation Serif", "DejaVu Serif", serif' font-size="19.39" fill="#111" stroke="#fff" stroke-width="0.11">OBC</text>
<path d="M89.1,67.6 H128.1" stroke="#008000" stroke-width="1.05" fill="none"/>
<path d="M104.65,69.85 L112.15,69.85 L108.40,63.20 Z" fill="#008000"/>
<text transform="translate(133.58,72.48) scale(1.120,1)" font-family='"Liberation Serif", "DejaVu Serif", serif' font-size="19.39" fill="#111" stroke="#fff" stroke-width="0.10">PBC</text>
<path d="M89.1,93.8 H128.1" stroke="#ff0000" stroke-width="1.05" fill="none"/>
<path d="M105.80,93.80 L108.40,90.10 L111.00,93.80 L108.40,97.50 Z" fill="#fff" stroke="#ff0000" stroke-width="1"/>
<text transform="translate(133.78,98.15) scale(1.145,1)" font-family='"Liberation Serif", "DejaVu Serif", serif' font-size="16.86" font-style="italic" fill="#111" stroke="#fff" stroke-width="0.07">π</text>
<text transform="translate(144.88,102.36) scale(1.122,1)" font-family='"Liberation Serif", "DejaVu Serif", serif' font-size="26.38" fill="#111" stroke="#fff" stroke-width="0.26">/</text>
<text transform="translate(154.09,98.32) scale(1.231,1)" font-family='"Liberation Serif", "DejaVu Serif", serif' font-size="16.12" fill="#111" stroke="#fff" stroke-width="0.08">2</text>
<path d="M89.1,116.5 H128.1" stroke="#ff8000" stroke-width="1.05" fill="none"/>
<rect x="105.50" y="113.60" width="5.8" height="5.8" fill="#ff8000"/>
<text transform="translate(133.78,118.76) scale(1.175,1)" font-family='"Liberation Serif", "DejaVu Serif", serif' font-size="16.43" font-style="italic" fill="#111" stroke="#fff" stroke-width="0.07">π</text>
<path d="M89.1,139.0 H128.1" stroke="#0000ff" stroke-width="1.05" fill="none"/>
<text transform="translate(133.66,143.78) scale(0.967,1)" font-family='"Liberation Serif", "DejaVu Serif", serif' font-size="19.53" fill="#111" stroke="#fff" stroke-width="0.12">LW</text>
<rect x="81.5" y="311.9" width="105.80000000000001" height="109.10000000000002" fill="#fff" stroke="#1a1a1a" stroke-width="1.1"/>
<path d="M89.1,329.0 H128.1" stroke="#00aeef" stroke-width="1.05" fill="none"/>
<rect x="106.20" y="326.80" width="4.4" height="4.4" fill="none" stroke="#00aeef" stroke-width="1"/>
<text transform="translate(132.84,333.88) scale(1.083,1)" font-family='"Liberation Serif", "DejaVu Serif", serif' font-size="19.39" fill="#111" stroke="#fff" stroke-width="0.11">OBC</text>
<path d="M89.1,353.9 H128.1" stroke="#008000" stroke-width="1.05" fill="none"/>
<path d="M104.65,356.15 L112.15,356.15 L108.40,349.50 Z" fill="#008000"/>
<text transform="translate(133.58,358.78) scale(1.120,1)" font-family='"Liberation Serif", "DejaVu Serif", serif' font-size="19.39" fill="#111" stroke="#fff" stroke-width="0.10">PBC</text>
<path d="M89.1,379.0 H128.1" stroke="#ff0000" stroke-width="1.05" fill="none"/>
<circle cx="108.40" cy="379.00" r="3.2" fill="#fff" stroke="#ff0000" stroke-width="0.95"/><path d="M105.20,379.10 A3.2,3.2 0 0 1 111.60,379.10 Z" fill="#ff0000"/>
<text transform="translate(133.85,383.88) scale(1.099,1)" font-family='"Liberation Serif", "DejaVu Serif", serif' font-size="19.39" fill="#111" stroke="#fff" stroke-width="0.11">TBC</text>
<path d="M89.1,403.9 H128.1" stroke="#0000ff" stroke-width="1.05" fill="none"/>
<text transform="translate(133.66,408.68) scale(0.967,1)" font-family='"Liberation Serif", "DejaVu Serif", serif' font-size="19.53" fill="#111" stroke="#fff" stroke-width="0.12">LW</text>
<text transform="translate(21.11,33.34) scale(1.081,1)" font-family='"Liberation Serif", "DejaVu Serif", serif' font-size="22.34" fill="#111" stroke="#fff" stroke-width="0.12">0.0</text>
<text transform="translate(21.11,128.60) scale(1.081,1)" font-family='"Liberation Serif", "DejaVu Serif", serif' font-size="22.34" fill="#111" stroke="#fff" stroke-width="0.12">0.5</text>
<text transform="translate(13.28,128.83) scale(1.023,1)" font-family='"Liberation Serif", "DejaVu Serif", serif' font-size="22.34" fill="#111" stroke="#fff" stroke-width="0.24">-</text>
<text transform="translate(21.11,223.87) scale(1.081,1)" font-family='"Liberation Serif", "DejaVu Serif", serif' font-size="22.34" fill="#111" stroke="#fff" stroke-width="0.12">1.0</text>
<text transform="translate(13.28,224.09) scale(1.023,1)" font-family='"Liberation Serif", "DejaVu Serif", serif' font-size="22.34" fill="#111" stroke="#fff" stroke-width="0.24">-</text>
<text transform="translate(21.11,319.13) scale(1.081,1)" font-family='"Liberation Serif", "DejaVu Serif", serif' font-size="22.34" fill="#111" stroke="#fff" stroke-width="0.12">0.0</text>
<text transform="translate(21.11,414.34) scale(1.081,1)" font-family='"Liberation Serif", "DejaVu Serif", serif' font-size="22.34" fill="#111" stroke="#fff" stroke-width="0.12">0.5</text>
<text transform="translate(13.28,414.57) scale(1.023,1)" font-family='"Liberation Serif", "DejaVu Serif", serif' font-size="22.34" fill="#111" stroke="#fff" stroke-width="0.24">-</text>
<text transform="translate(21.11,509.56) scale(1.081,1)" font-family='"Liberation Serif", "DejaVu Serif", serif' font-size="22.34" fill="#111" stroke="#fff" stroke-width="0.12">1.0</text>
<text transform="translate(13.28,509.78) scale(1.023,1)" font-family='"Liberation Serif", "DejaVu Serif", serif' font-size="22.34" fill="#111" stroke="#fff" stroke-width="0.24">-</text>
<text transform="translate(83.08,605.40) scale(1.001,1)" font-family='"Liberation Serif", "DejaVu Serif", serif' font-size="22.43" fill="#111" stroke="#fff" stroke-width="0.13">10</text>
<text transform="translate(106.17,598.15) scale(1.439,1)" font-family='"Liberation Serif", "DejaVu Serif", serif' font-size="15.60" fill="#111">−</text>
<text transform="translate(120.60,596.72) scale(0.985,1)" font-family='"Liberation Serif", "DejaVu Serif", serif' font-size="15.79" fill="#111" stroke="#fff" stroke-width="0.10">1</text>
<text transform="translate(182.10,605.40) scale(1.004,1)" font-family='"Liberation Serif", "DejaVu Serif", serif' font-size="22.43" fill="#111" stroke="#fff" stroke-width="0.13">10</text>
<text transform="translate(205.15,597.06) scale(1.071,1)" font-family='"Liberation Serif", "DejaVu Serif", serif' font-size="15.76" fill="#111" stroke="#fff" stroke-width="0.09">0</text>
<text transform="translate(273.93,605.40) scale(1.004,1)" font-family='"Liberation Serif", "DejaVu Serif", serif' font-size="22.43" fill="#111" stroke="#fff" stroke-width="0.13">10</text>
<text transform="translate(296.86,596.72) scale(0.985,1)" font-family='"Liberation Serif", "DejaVu Serif", serif' font-size="15.79" fill="#111" stroke="#fff" stroke-width="0.10">1</text>
<text transform="translate(365.76,605.40) scale(1.004,1)" font-family='"Liberation Serif", "DejaVu Serif", serif' font-size="22.43" fill="#111" stroke="#fff" stroke-width="0.13">10</text>
<text transform="translate(388.69,597.22) scale(1.099,1)" font-family='"Liberation Serif", "DejaVu Serif", serif' font-size="16.12" fill="#111" stroke="#fff" stroke-width="0.09">2</text>
<text transform="translate(457.59,605.40) scale(1.004,1)" font-family='"Liberation Serif", "DejaVu Serif", serif' font-size="22.43" fill="#111" stroke="#fff" stroke-width="0.13">10</text>
<text transform="translate(480.46,597.06) scale(1.089,1)" font-family='"Liberation Serif", "DejaVu Serif", serif' font-size="15.88" fill="#111" stroke="#fff" stroke-width="0.09">3</text>
<text transform="translate(304.58,638.82) scale(0.926,1)" font-family='"Liberation Serif", "DejaVu Serif", serif' font-size="29.61" font-style="italic" fill="#0000ff" stroke="#fff" stroke-width="0.19">U</text>
<text transform="translate(326.88,644.21) scale(0.957,1)" font-family='"Liberation Serif", "DejaVu Serif", serif' font-size="40.81" fill="#0000ff" stroke="#fff" stroke-width="0.47">/</text>
<text transform="translate(338.48,638.42) scale(0.969,1)" font-family='"Liberation Serif", "DejaVu Serif", serif' font-size="29.89" font-style="italic" fill="#0000ff" stroke="#fff" stroke-width="0.34">t</text>
<text transform="translate(347.61,645.34) scale(1.190,1)" font-family='"Liberation Serif", "DejaVu Serif", serif' font-size="18.28" fill="#0000ff" stroke="#fff" stroke-width="0.09">0</text>
<text transform="translate(41.33,110.55) rotate(-90) scale(0.993,1)" font-family='"DejaVu Math TeX Gyre", "DejaVu Serif", serif' font-size="25.55" fill="#0000ff" stroke="#0000ff" stroke-width="0.40">ℰ</text>
<text transform="translate(48.82,96.41) rotate(-90) scale(0.956,1) skewX(-12)" font-family='"Liberation Serif", "DejaVu Serif", serif' font-size="20.67" fill="#0000ff" stroke="#0000ff" stroke-width="0.16">Ω</text>
<text transform="translate(47.32,78.92) rotate(-90) scale(0.935,1)" font-family='"Liberation Serif", "DejaVu Serif", serif' font-size="40.21" fill="#0000ff" stroke="#fff" stroke-width="0.47">/</text>
<text transform="translate(41.02,67.83) rotate(-90) scale(1.046,1)" font-family='"Liberation Serif", "DejaVu Serif", serif' font-size="29.98" font-style="italic" fill="#0000ff" stroke="#fff" stroke-width="0.32">t</text>
<text transform="translate(48.83,57.31) rotate(-90) scale(0.968,1)" font-family='"Liberation Serif", "DejaVu Serif", serif' font-size="19.17" fill="#0000ff" stroke="#fff" stroke-width="0.12">0</text>
<text transform="translate(41.33,396.35) rotate(-90) scale(0.993,1)" font-family='"DejaVu Math TeX Gyre", "DejaVu Serif", serif' font-size="25.55" fill="#0000ff" stroke="#0000ff" stroke-width="0.40">ℰ</text>
<text transform="translate(48.82,382.21) rotate(-90) scale(0.956,1) skewX(-12)" font-family='"Liberation Serif", "DejaVu Serif", serif' font-size="20.67" fill="#0000ff" stroke="#0000ff" stroke-width="0.16">Ω</text>
<text transform="translate(47.32,364.72) rotate(-90) scale(0.935,1)" font-family='"Liberation Serif", "DejaVu Serif", serif' font-size="40.21" fill="#0000ff" stroke="#fff" stroke-width="0.47">/</text>
<text transform="translate(41.02,353.63) rotate(-90) scale(1.046,1)" font-family='"Liberation Serif", "DejaVu Serif", serif' font-size="29.98" font-style="italic" fill="#0000ff" stroke="#fff" stroke-width="0.32">t</text>
<text transform="translate(48.83,343.11) rotate(-90) scale(0.968,1)" font-family='"Liberation Serif", "DejaVu Serif", serif' font-size="19.17" fill="#0000ff" stroke="#fff" stroke-width="0.12">0</text>
<rect x="218.3" y="249.2" width="71.9" height="29.5" fill="#fff" stroke="#8a8a8a" stroke-width="1"/>
<text transform="translate(227.43,272.12) scale(1.053,1)" font-family='"Liberation Serif", "DejaVu Serif", serif' font-size="23.45" font-style="italic" fill="#7c7c7c" stroke="#fff" stroke-width="0.13">L</text>
<text transform="translate(246.28,275.41) scale(1.227,1)" font-family='"Liberation Serif", "DejaVu Serif", serif' font-size="27.76" fill="#7c7c7c" stroke="#fff" stroke-width="0.14">=</text>
<text transform="translate(271.22,272.24) scale(0.985,1)" font-family='"Liberation Serif", "DejaVu Serif", serif' font-size="23.45" fill="#7c7c7c" stroke="#fff" stroke-width="0.14">4</text>
<rect x="218.3" y="535.0" width="71.9" height="29.5" fill="#fff" stroke="#8a8a8a" stroke-width="1"/>
<text transform="translate(227.43,557.92) scale(1.053,1)" font-family='"Liberation Serif", "DejaVu Serif", serif' font-size="23.45" font-style="italic" fill="#7c7c7c" stroke="#fff" stroke-width="0.13">L</text>
<text transform="translate(246.28,561.21) scale(1.227,1)" font-family='"Liberation Serif", "DejaVu Serif", serif' font-size="27.76" fill="#7c7c7c" stroke="#fff" stroke-width="0.14">=</text>
<text transform="translate(270.54,557.69) scale(1.111,1)" font-family='"Liberation Serif", "DejaVu Serif", serif' font-size="22.75" fill="#7c7c7c" stroke="#fff" stroke-width="0.12">6</text>
<rect x="336.6" y="101.2" width="131.2" height="128.7" fill="#fffbe6"/>
<path d="M336.6,217.03 h10 M336.6,165.55 h10 M336.6,114.07 h10 M401.44,229.9 v-10" stroke="#959595" stroke-width="0.7" fill="none"/>
<path d="M336.60,165.55 L337.69,168.28 L338.79,170.99 L339.88,173.70 L340.97,176.38 L342.07,179.03 L343.16,181.64 L344.25,184.20 L345.35,186.72 L346.44,189.17 L347.53,191.56 L348.63,193.88 L349.72,196.11 L350.81,198.26 L351.91,200.32 L353.00,202.28 L354.09,204.14 L355.19,205.89 L356.28,207.53 L357.37,209.05 L358.47,210.44 L359.56,211.72 L360.65,212.86 L361.75,213.87 L362.84,214.74 L363.93,215.47 L365.03,216.07 L366.12,216.52 L367.21,216.83 L368.31,217.00 L369.40,217.02 L370.49,216.90 L371.59,216.63 L372.68,216.22 L373.77,215.67 L374.87,214.98 L375.96,214.15 L377.05,213.18 L378.15,212.08 L379.24,210.85 L380.33,209.49 L381.43,208.01 L382.52,206.41 L383.61,204.69 L384.71,202.87 L385.80,200.94 L386.89,198.91 L387.99,196.78 L389.08,194.57 L390.17,192.28 L391.27,189.91 L392.36,187.48 L393.45,184.98 L394.55,182.43 L395.64,179.83 L396.73,177.19 L397.83,174.52 L398.92,171.83 L400.01,169.11 L401.11,166.39 L402.20,163.66 L403.29,160.94 L404.39,158.23 L405.48,155.54 L406.57,152.88 L407.67,150.26 L408.76,147.68 L409.85,145.15 L410.95,142.67 L412.04,140.26 L413.13,137.93 L414.23,135.66 L415.32,133.49 L416.41,131.40 L417.51,129.41 L418.60,127.52 L419.69,125.73 L420.79,124.06 L421.88,122.51 L422.97,121.07 L424.07,119.76 L425.16,118.58 L426.25,117.53 L427.35,116.61 L428.44,115.84 L429.53,115.20 L430.63,114.70 L431.72,114.35 L432.81,114.14 L433.91,114.07 L435.00,114.15 L436.09,114.37 L437.19,114.74 L438.28,115.24 L439.37,115.89 L440.47,116.68 L441.56,117.61 L442.65,118.67 L443.75,119.86 L444.84,121.18 L445.93,122.62 L447.03,124.19 L448.12,125.87 L449.21,127.66 L450.31,129.56 L451.40,131.56 L452.49,133.65 L453.59,135.84 L454.68,138.11 L455.77,140.45 L456.87,142.87 L457.96,145.34 L459.05,147.88 L460.15,150.46 L461.24,153.09 L462.33,155.75 L463.43,158.44 L464.52,161.15 L465.61,163.88 L466.71,166.60 L467.80,169.33" stroke="#ff8000" stroke-width="1.1" fill="none"/>
<rect x="336.6" y="101.2" width="131.2" height="128.7" fill="none" stroke="#868686" stroke-width="1.1"/>
<path d="M362.52,217.03 h13" stroke="#0000ff" stroke-width="1.6" fill="none"/>
<path d="M365.72,225.43 V212.03" stroke="#0000ff" stroke-width="1.4" fill="none"/><path d="M365.72,207.53 L362.42,214.43 L365.72,211.93 L369.02,214.43 Z" fill="#0000ff"/>
<path d="M372.32,208.63 V222.03" stroke="#0000ff" stroke-width="1.4" fill="none"/><path d="M372.32,226.53 L369.02,219.63 L372.32,222.13 L375.62,219.63 Z" fill="#0000ff"/>
<path d="M394.94,165.55 h13" stroke="#0000ff" stroke-width="1.6" fill="none"/>
<path d="M401.44,173.95 V160.55" stroke="#0000ff" stroke-width="1.4" fill="none"/><path d="M401.44,156.05 L398.14,162.95 L401.44,160.45 L404.74,162.95 Z" fill="#0000ff"/>
<path d="M427.36,114.07 h13" stroke="#0000ff" stroke-width="1.6" fill="none"/>
<path d="M459.78,165.55 h13" stroke="#0000ff" stroke-width="1.6" fill="none"/>
<path d="M466.28,157.15 V170.55" stroke="#0000ff" stroke-width="1.4" fill="none"/><path d="M466.28,175.05 L462.98,168.15 L466.28,170.65 L469.58,168.15 Z" fill="#0000ff"/>
<text transform="translate(317.08,121.59) scale(1.069,1)" font-family='"Liberation Serif", "DejaVu Serif", serif' font-size="22.79" fill="#7c7c7c" stroke="#fff" stroke-width="0.13">2</text>
<text transform="translate(317.25,172.85) scale(1.041,1)" font-family='"Liberation Serif", "DejaVu Serif", serif' font-size="22.28" fill="#7c7c7c" stroke="#fff" stroke-width="0.13">0</text>
<text transform="translate(317.32,223.45) scale(1.050,1)" font-family='"Liberation Serif", "DejaVu Serif", serif' font-size="22.48" fill="#7c7c7c" stroke="#fff" stroke-width="0.13">2</text>
<text transform="translate(300.56,224.72) scale(1.306,1)" font-family='"Liberation Serif", "DejaVu Serif", serif' font-size="21.80" fill="#7c7c7c">−</text>
<text transform="translate(323.17,252.49) scale(1.198,1)" font-family='"Liberation Serif", "DejaVu Serif", serif' font-size="21.80" fill="#7c7c7c">−</text>
<text transform="translate(339.58,250.51) scale(1.006,1)" font-family='"Liberation Serif", "DejaVu Serif", serif' font-size="20.73" font-style="italic" fill="#7c7c7c" stroke="#fff" stroke-width="0.12">π</text>
<text transform="translate(396.01,252.60) scale(1.098,1)" font-family='"Liberation Serif", "DejaVu Serif", serif' font-size="21.99" fill="#7c7c7c" stroke="#fff" stroke-width="0.12">0</text>
<text transform="translate(428.72,251.42) scale(1.078,1)" font-family='"Liberation Serif", "DejaVu Serif", serif' font-size="23.39" font-style="italic" fill="#0000ff" stroke="#fff" stroke-width="0.13">k</text>
<text transform="translate(461.47,247.42) scale(1.055,1)" font-family='"Liberation Serif", "DejaVu Serif", serif' font-size="20.30" font-style="italic" fill="#7c7c7c" stroke="#fff" stroke-width="0.12">π</text>
<text transform="translate(303.98,190.67) rotate(-90) scale(0.898,1)" font-family='"Liberation Serif", "DejaVu Serif", serif' font-size="24.04" font-style="italic" fill="#0000ff" stroke="#fff" stroke-width="0.16">ϵ</text>
<text transform="translate(306.92,181.00) rotate(-90) scale(1.140,1)" font-family='"Liberation Serif", "DejaVu Serif", serif' font-size="17.01" font-style="italic" fill="#0000ff" stroke="#fff" stroke-width="0.09">k</text>
<text transform="translate(308.58,169.52) rotate(-90) scale(0.998,1)" font-family='"Liberation Serif", "DejaVu Serif", serif' font-size="34.05" fill="#0000ff" stroke="#fff" stroke-width="0.38">/</text>
<text transform="translate(303.56,160.08) rotate(-90) scale(1.182,1)" font-family='"Liberation Serif", "DejaVu Serif", serif' font-size="25.51" font-style="italic" fill="#0000ff" stroke="#fff" stroke-width="0.24">t</text>
<text transform="translate(309.56,151.16) rotate(-90) scale(1.137,1)" font-family='"Liberation Serif", "DejaVu Serif", serif' font-size="16.21" fill="#0000ff" stroke="#fff" stroke-width="0.09">0</text>
<rect x="336.6" y="387.0" width="131.2" height="128.7" fill="#fffbe6"/>
<path d="M336.6,502.83 h10 M336.6,451.35 h10 M336.6,399.87 h10 M401.44,515.7 v-10" stroke="#959595" stroke-width="0.7" fill="none"/>
<path d="M336.60,451.35 L337.69,454.08 L338.79,456.79 L339.88,459.50 L340.97,462.18 L342.07,464.83 L343.16,467.44 L344.25,470.00 L345.35,472.52 L346.44,474.97 L347.53,477.36 L348.63,479.68 L349.72,481.91 L350.81,484.06 L351.91,486.12 L353.00,488.08 L354.09,489.94 L355.19,491.69 L356.28,493.33 L357.37,494.85 L358.47,496.24 L359.56,497.52 L360.65,498.66 L361.75,499.67 L362.84,500.54 L363.93,501.27 L365.03,501.87 L366.12,502.32 L367.21,502.63 L368.31,502.80 L369.40,502.82 L370.49,502.70 L371.59,502.43 L372.68,502.02 L373.77,501.47 L374.87,500.78 L375.96,499.95 L377.05,498.98 L378.15,497.88 L379.24,496.65 L380.33,495.29 L381.43,493.81 L382.52,492.21 L383.61,490.49 L384.71,488.67 L385.80,486.74 L386.89,484.71 L387.99,482.58 L389.08,480.37 L390.17,478.08 L391.27,475.71 L392.36,473.28 L393.45,470.78 L394.55,468.23 L395.64,465.63 L396.73,462.99 L397.83,460.32 L398.92,457.63 L400.01,454.91 L401.11,452.19 L402.20,449.46 L403.29,446.74 L404.39,444.03 L405.48,441.34 L406.57,438.68 L407.67,436.06 L408.76,433.48 L409.85,430.95 L410.95,428.47 L412.04,426.06 L413.13,423.73 L414.23,421.46 L415.32,419.29 L416.41,417.20 L417.51,415.21 L418.60,413.32 L419.69,411.53 L420.79,409.86 L421.88,408.31 L422.97,406.87 L424.07,405.56 L425.16,404.38 L426.25,403.33 L427.35,402.41 L428.44,401.64 L429.53,401.00 L430.63,400.50 L431.72,400.15 L432.81,399.94 L433.91,399.87 L435.00,399.95 L436.09,400.17 L437.19,400.54 L438.28,401.04 L439.37,401.69 L440.47,402.48 L441.56,403.41 L442.65,404.47 L443.75,405.66 L444.84,406.98 L445.93,408.42 L447.03,409.99 L448.12,411.67 L449.21,413.46 L450.31,415.36 L451.40,417.36 L452.49,419.45 L453.59,421.64 L454.68,423.91 L455.77,426.25 L456.87,428.67 L457.96,431.14 L459.05,433.68 L460.15,436.26 L461.24,438.89 L462.33,441.55 L463.43,444.24 L464.52,446.95 L465.61,449.68 L466.71,452.40 L467.80,455.13" stroke="#ff8000" stroke-width="1.1" fill="none"/>
<rect x="336.6" y="387.0" width="131.2" height="128.7" fill="none" stroke="#868686" stroke-width="1.1"/>
<path d="M351.71,495.93 h13" stroke="#0000ff" stroke-width="1.6" fill="none"/>
<path d="M354.91,504.33 V490.93" stroke="#0000ff" stroke-width="1.4" fill="none"/><path d="M354.91,486.43 L351.61,493.33 L354.91,490.83 L358.21,493.33 Z" fill="#0000ff"/>
<path d="M361.51,487.53 V500.93" stroke="#0000ff" stroke-width="1.4" fill="none"/><path d="M361.51,505.43 L358.21,498.53 L361.51,501.03 L364.81,498.53 Z" fill="#0000ff"/>
<path d="M373.33,495.93 h13" stroke="#0000ff" stroke-width="1.6" fill="none"/>
<path d="M376.53,504.33 V490.93" stroke="#0000ff" stroke-width="1.4" fill="none"/><path d="M376.53,486.43 L373.23,493.33 L376.53,490.83 L379.83,493.33 Z" fill="#0000ff"/>
<path d="M383.13,487.53 V500.93" stroke="#0000ff" stroke-width="1.4" fill="none"/><path d="M383.13,505.43 L379.83,498.53 L383.13,501.03 L386.43,498.53 Z" fill="#0000ff"/>
<path d="M394.94,451.35 h13" stroke="#0000ff" stroke-width="1.6" fill="none"/>
<path d="M401.44,459.75 V446.35" stroke="#0000ff" stroke-width="1.4" fill="none"/><path d="M401.44,441.85 L398.14,448.75 L401.44,446.25 L404.74,448.75 Z" fill="#0000ff"/>
<path d="M416.56,406.77 h13" stroke="#0000ff" stroke-width="1.6" fill="none"/>
<path d="M438.17,406.77 h13" stroke="#0000ff" stroke-width="1.6" fill="none"/>
<path d="M459.78,451.35 h13" stroke="#0000ff" stroke-width="1.6" fill="none"/>
<path d="M466.28,442.95 V456.35" stroke="#0000ff" stroke-width="1.4" fill="none"/><path d="M466.28,460.85 L462.98,453.95 L466.28,456.45 L469.58,453.95 Z" fill="#0000ff"/>
<text transform="translate(317.08,407.39) scale(1.069,1)" font-family='"Liberation Serif", "DejaVu Serif", serif' font-size="22.79" fill="#7c7c7c" stroke="#fff" stroke-width="0.13">2</text>
<text transform="translate(317.25,458.65) scale(1.041,1)" font-family='"Liberation Serif", "DejaVu Serif", serif' font-size="22.28" fill="#7c7c7c" stroke="#fff" stroke-width="0.13">0</text>
<text transform="translate(317.32,509.25) scale(1.050,1)" font-family='"Liberation Serif", "DejaVu Serif", serif' font-size="22.48" fill="#7c7c7c" stroke="#fff" stroke-width="0.13">2</text>
<text transform="translate(300.56,510.52) scale(1.306,1)" font-family='"Liberation Serif", "DejaVu Serif", serif' font-size="21.80" fill="#7c7c7c">−</text>
<text transform="translate(323.17,538.29) scale(1.198,1)" font-family='"Liberation Serif", "DejaVu Serif", serif' font-size="21.80" fill="#7c7c7c">−</text>
<text transform="translate(339.58,536.31) scale(1.006,1)" font-family='"Liberation Serif", "DejaVu Serif", serif' font-size="20.73" font-style="italic" fill="#7c7c7c" stroke="#fff" stroke-width="0.12">π</text>
<text transform="translate(396.01,538.40) scale(1.098,1)" font-family='"Liberation Serif", "DejaVu Serif", serif' font-size="21.99" fill="#7c7c7c" stroke="#fff" stroke-width="0.12">0</text>
<text transform="translate(428.72,537.22) scale(1.078,1)" font-family='"Liberation Serif", "DejaVu Serif", serif' font-size="23.39" font-style="italic" fill="#0000ff" stroke="#fff" stroke-width="0.13">k</text>
<text transform="translate(461.47,533.22) scale(1.055,1)" font-family='"Liberation Serif", "DejaVu Serif", serif' font-size="20.30" font-style="italic" fill="#7c7c7c" stroke="#fff" stroke-width="0.12">π</text>
<text transform="translate(303.98,476.47) rotate(-90) scale(0.898,1)" font-family='"Liberation Serif", "DejaVu Serif", serif' font-size="24.04" font-style="italic" fill="#0000ff" stroke="#fff" stroke-width="0.16">ϵ</text>
<text transform="translate(306.92,466.80) rotate(-90) scale(1.140,1)" font-family='"Liberation Serif", "DejaVu Serif", serif' font-size="17.01" font-style="italic" fill="#0000ff" stroke="#fff" stroke-width="0.09">k</text>
<text transform="translate(308.58,455.32) rotate(-90) scale(0.998,1)" font-family='"Liberation Serif", "DejaVu Serif", serif' font-size="34.05" fill="#0000ff" stroke="#fff" stroke-width="0.38">/</text>
<text transform="translate(303.56,445.88) rotate(-90) scale(1.182,1)" font-family='"Liberation Serif", "DejaVu Serif", serif' font-size="25.51" font-style="italic" fill="#0000ff" stroke="#fff" stroke-width="0.24">t</text>
<text transform="translate(309.56,436.96) rotate(-90) scale(1.137,1)" font-family='"Liberation Serif", "DejaVu Serif", serif' font-size="16.21" fill="#0000ff" stroke="#fff" stroke-width="0.09">0</text>
</svg>
</body></html>
